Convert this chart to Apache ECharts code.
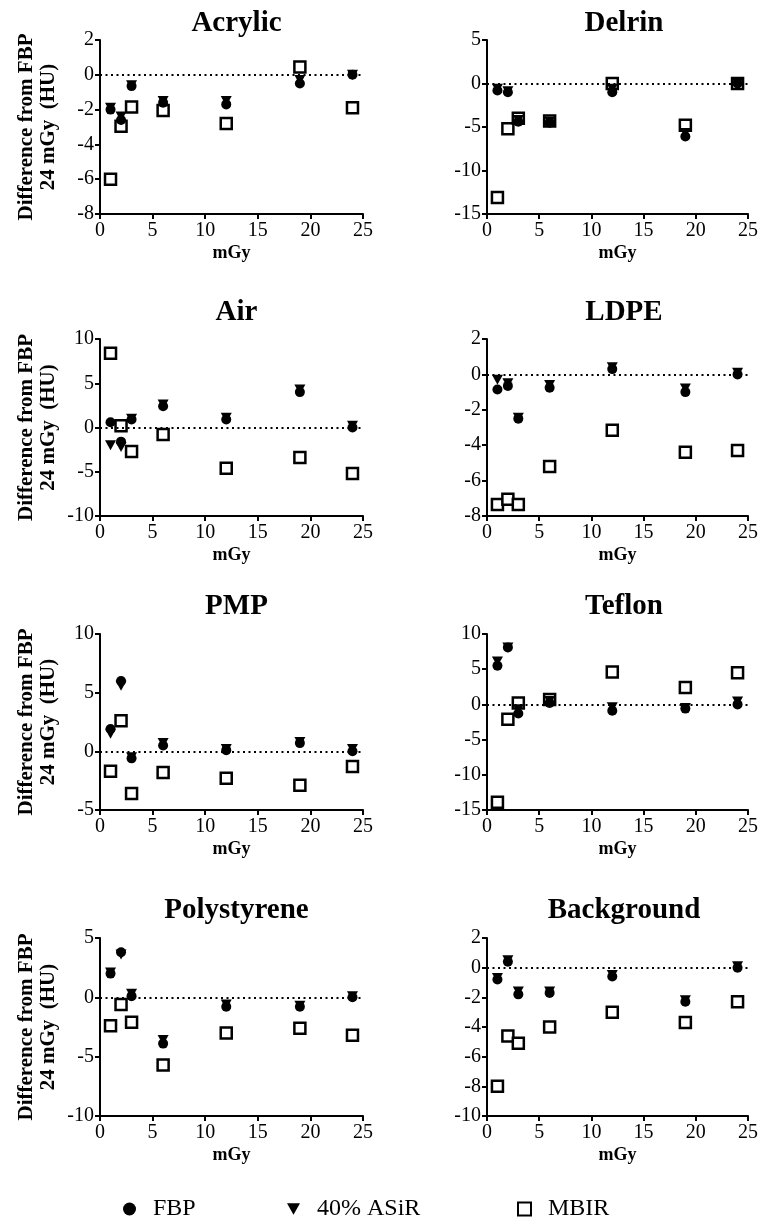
<!DOCTYPE html>
<html>
<head>
<meta charset="UTF-8">
<title>Difference from FBP 24 mGy</title>
<script type="text/javascript" src="https://cdn.jsdelivr.net/npm/echarts@6/dist/echarts.min.js"></script>
<style>
  body{margin:0;background:#fff}
</style>
</head>
<body>
<div id="main" style="width:761px;height:1221px"></div>
<script type="text/javascript">
// dose levels (x values), shared by every panel
var doses = [1, 2, 3, 6, 12, 19, 24];
var panelNames = ['Acrylic', 'Delrin', 'Air', 'LDPE', 'PMP', 'Teflon', 'Polystyrene', 'Background'];
var xTicks = [0, 5, 10, 15, 20, 25];

// y axis ranges per panel
var yMins = [-8, -15, -10, -8, -5, -15, -10, -10];
var yMaxs = [2, 5, 10, 2, 10, 10, 5, 2];
var yIntervals = [2, 5, 5, 2, 5, 5, 5, 2];

// values (HU)
var acrylicFBP  = [-2.0, -2.6, -0.65, -1.6, -1.7, -0.5, 0];
var acrylicASiR = [-1.9, -2.4, -0.6, -1.5, -1.5, -0.3, 0];
var acrylicMBIR = [-6.0, -2.95, -1.85, -2.05, -2.8, 0.45, -1.9];

var delrinFBP  = [-0.8, -1.0, -4.4, -4.5, -1.0, -6.1, 0];
var delrinASiR = [-0.6, -0.9, -4.2, -4.4, -0.6, -5.7, 0];
var delrinMBIR = [-13.1, -5.2, -4.0, -4.3, 0, -4.8, 0];

var airFBP  = [0.6, -1.6, 0.9, 2.4, 0.9, 4.0, 0];
var airASiR = [-2.0, -2.2, 1.0, 2.6, 1.1, 4.3, 0.2];
var airMBIR = [8.4, 0.2, -2.7, -0.8, -4.6, -3.4, -5.2];

var ldpeFBP  = [-0.85, -0.65, -2.5, -0.75, 0.3, -1.0, 0];
var ldpeASiR = [-0.3, -0.5, -2.45, -0.6, 0.4, -0.8, 0.1];
var ldpeMBIR = [-7.35, -7.05, -7.35, -5.2, -3.15, -4.4, -4.3];

var pmpFBP  = [1.9, 6.0, -0.6, 0.5, 0.1, 0.7, 0];
var pmpASiR = [1.5, 5.6, -0.5, 0.7, 0.2, 0.8, 0.2];
var pmpMBIR = [-1.7, 2.6, -3.6, -1.8, -2.3, -2.9, -1.3];

var teflonFBP  = [5.5, 8.1, -1.3, 0.2, -0.9, -0.6, 0];
var teflonASiR = [6.1, 8.1, -0.7, 0.5, -0.4, -0.5, 0.4];
var teflonMBIR = [-13.9, -2.1, 0.2, 0.7, 4.6, 2.4, 4.5];

var polyFBP  = [2.0, 3.8, 0.1, -3.9, -0.8, -0.8, 0];
var polyASiR = [2.1, 3.6, 0.3, -3.6, -0.6, -0.7, 0.1];
var polyMBIR = [-2.4, -0.6, -2.1, -5.7, -3.0, -2.6, -3.2];

var bgFBP  = [-0.8, 0.4, -1.8, -1.7, -0.6, -2.3, 0];
var bgASiR = [-0.7, 0.5, -1.6, -1.6, -0.5, -2.2, 0.1];
var bgMBIR = [-8.0, -4.6, -5.1, -4.0, -3.0, -3.7, -2.3];

var fbpSets  = [acrylicFBP, delrinFBP, airFBP, ldpeFBP, pmpFBP, teflonFBP, polyFBP, bgFBP];
var asirSets = [acrylicASiR, delrinASiR, airASiR, ldpeASiR, pmpASiR, teflonASiR, polyASiR, bgASiR];
var mbirSets = [acrylicMBIR, delrinMBIR, airMBIR, ldpeMBIR, pmpMBIR, teflonMBIR, polyMBIR, bgMBIR];

var serif = "'Liberation Serif', 'Times New Roman', serif";
var triDown = 'path://M0,0L10,0L5,9Z';

// layout of the 2 x 4 panels
var colLeft = [100, 487];
var colWidth = [263, 264];
var rowTop = [40, 339, 634, 938];
var rowHeight = [174, 177, 176, 178];
var titleTop = [4, 293, 587, 891];

function pairs(ys) {
  return doses.map(function (d, i) { return [d, ys[i]]; });
}

var grids = [], xAxes = [], yAxes = [], titles = [], series = [];

panelNames.forEach(function (name, p) {
  var c = p % 2, r = Math.floor(p / 2);
  grids.push({ left: colLeft[c], top: rowTop[r], width: colWidth[c], height: rowHeight[r] });
  titles.push({
    text: name,
    left: colLeft[c] + colWidth[c] / 2,
    top: titleTop[r],
    textAlign: 'center',
    textStyle: { fontFamily: serif, fontSize: 29, fontWeight: 'bold', color: '#000' }
  });
  xAxes.push({
    type: 'value', gridIndex: p, min: 0, max: 25, interval: 5,
    name: 'mGy', nameLocation: 'middle', nameGap: 30,
    nameTextStyle: { fontFamily: serif, fontSize: 18, fontWeight: 'bold', color: '#000' },
    axisLine: { onZero: false, lineStyle: { color: '#000', width: 2 } },
    axisTick: { show: true, length: 5, lineStyle: { color: '#000', width: 2 } },
    axisLabel: { fontFamily: serif, fontSize: 20, color: '#000', margin: 7 },
    splitLine: { show: false }
  });
  yAxes.push({
    type: 'value', gridIndex: p, min: yMins[p], max: yMaxs[p], interval: yIntervals[p],
    name: c === 0 ? 'Difference from FBP\n24 mGy  (HU)' : '',
    nameLocation: 'middle', nameRotate: 90, nameGap: 40,
    nameTextStyle: { fontFamily: serif, fontSize: 21, fontWeight: 'bold', color: '#000', lineHeight: 22 },
    axisLine: { onZero: false, lineStyle: { color: '#000', width: 2 } },
    axisTick: { show: true, length: 5, lineStyle: { color: '#000', width: 2 } },
    axisLabel: { fontFamily: serif, fontSize: 20, color: '#000', margin: 6 },
    splitLine: { show: false }
  });
  series.push({
    name: 'MBIR', type: 'scatter', xAxisIndex: p, yAxisIndex: p, z: 2,
    symbol: 'rect', symbolSize: 11,
    itemStyle: { color: '#fff', borderColor: '#000', borderWidth: 2.5, opacity: 1 },
    data: pairs(mbirSets[p]),
    markLine: {
      silent: true, symbol: ['none', 'none'], label: { show: false },
      lineStyle: { color: '#000', type: [2, 3.5], width: 2 },
      data: [{ yAxis: 0 }]
    }
  });
  series.push({
    name: 'FBP', type: 'scatter', xAxisIndex: p, yAxisIndex: p, z: 3,
    symbol: 'circle', symbolSize: 10,
    itemStyle: { color: '#000', opacity: 1 },
    data: pairs(fbpSets[p])
  });
  series.push({
    name: '40% ASiR', type: 'scatter', xAxisIndex: p, yAxisIndex: p, z: 4,
    symbol: triDown, symbolSize: [11, 10],
    itemStyle: { color: '#000', opacity: 1 },
    data: pairs(asirSets[p])
  });
});

function legendFor(name, left, icon) {
  return {
    data: [{ name: name, icon: icon }],
    left: left, top: 1192, itemWidth: 13, itemHeight: 13,
    selectedMode: false,
    textStyle: { fontFamily: serif, fontSize: 24, color: '#000', padding: [0, 0, 0, 12] }
  };
}

var myEcharts = echarts.init(document.getElementById('main'));
myEcharts.setOption({
  animation: false,
  backgroundColor: '#fff',
  title: titles,
  legend: [
    legendFor('FBP', 118, 'circle'),
    legendFor('40% ASiR', 282, triDown),
    legendFor('MBIR', 512, 'rect')
  ],
  grid: grids,
  xAxis: xAxes,
  yAxis: yAxes,
  series: series
});
</script>
</body>
</html>
